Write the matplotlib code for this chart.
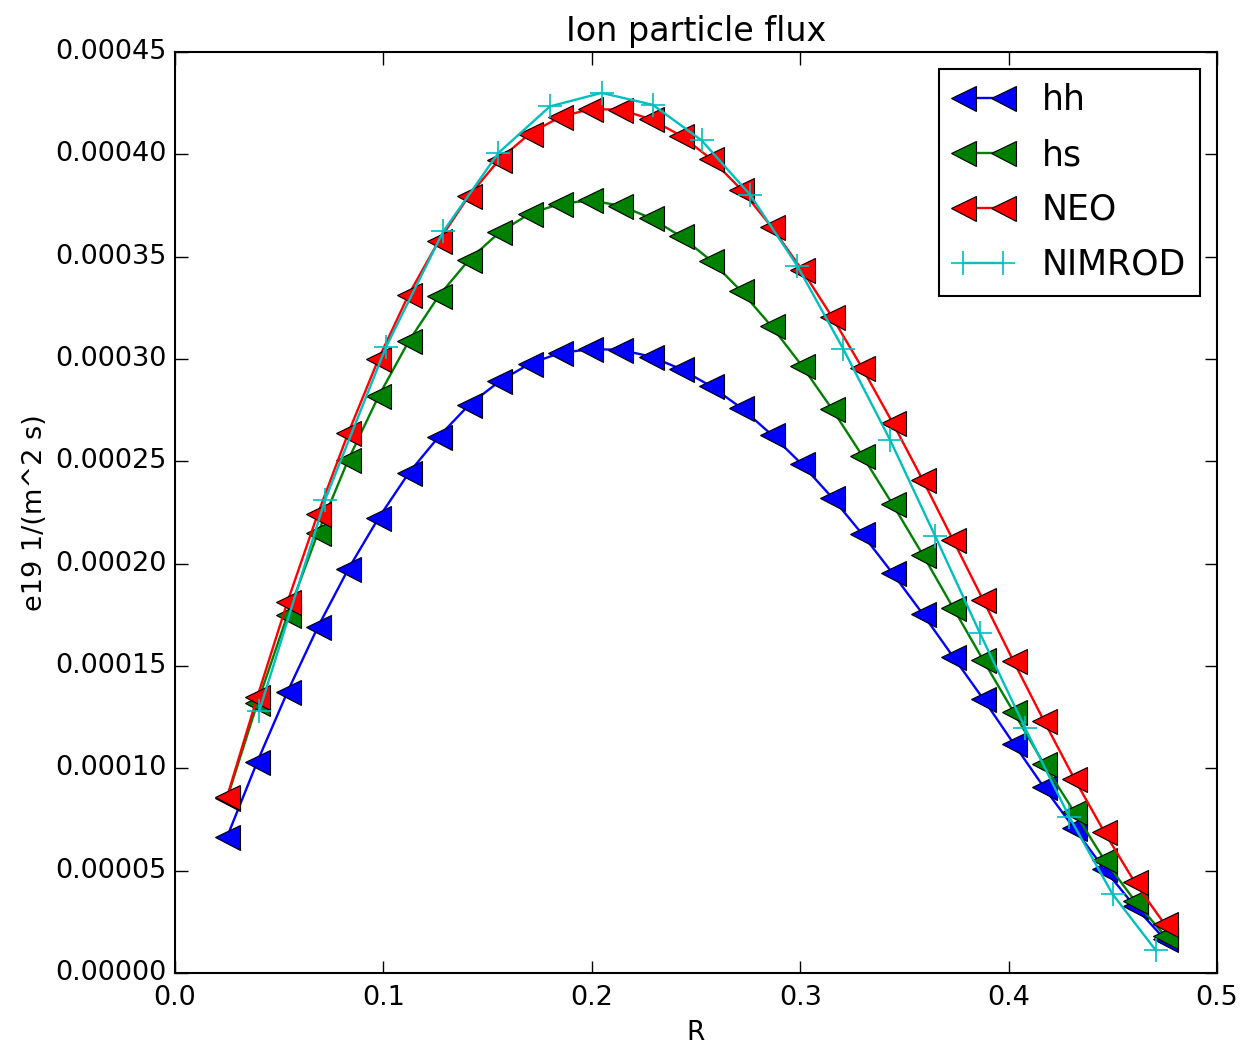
import matplotlib
matplotlib.use('Agg')
import matplotlib.pyplot as plt
import numpy as np
from matplotlib.ticker import FormatStrFormatter, MultipleLocator

# radial positions of the hh / hs / NEO points
r = [0.0250, 0.0395, 0.0540, 0.0685, 0.0831, 0.0976, 0.1121, 0.1266,
     0.1411, 0.1556, 0.1702, 0.1847, 0.1992, 0.2137, 0.2282, 0.2427,
     0.2573, 0.2718, 0.2863, 0.3008, 0.3153, 0.3298, 0.3444, 0.3589,
     0.3734, 0.3879, 0.4024, 0.4169, 0.4315, 0.4460, 0.4605, 0.4750]

# flux values in units of 1e-4
hh = [0.666, 1.033, 1.375, 1.690, 1.973, 2.222, 2.442, 2.621,
      2.776, 2.890, 2.977, 3.029, 3.048, 3.045, 3.012, 2.951,
      2.866, 2.760, 2.630, 2.486, 2.323, 2.144, 1.952, 1.753,
      1.545, 1.338, 1.121, 0.908, 0.706, 0.507, 0.326, 0.164]
hs = [0.854, 1.318, 1.750, 2.149, 2.507, 2.817, 3.086, 3.309,
      3.485, 3.618, 3.710, 3.758, 3.775, 3.749, 3.689, 3.599,
      3.480, 3.330, 3.159, 2.967, 2.755, 2.527, 2.289, 2.042,
      1.784, 1.527, 1.275, 1.022, 0.787, 0.552, 0.354, 0.182]
neo = [0.862, 1.350, 1.815, 2.243, 2.638, 2.999, 3.314, 3.578,
       3.798, 3.974, 4.101, 4.182, 4.221, 4.218, 4.172, 4.091,
       3.977, 3.827, 3.645, 3.436, 3.205, 2.955, 2.687, 2.407,
       2.114, 1.820, 1.522, 1.233, 0.950, 0.688, 0.444, 0.237]

r_nimrod = [0.0405, 0.0720, 0.1012, 0.1287, 0.1551, 0.1799, 0.2047,
            0.2292, 0.2527, 0.2759, 0.2986, 0.3207, 0.3431, 0.3647,
            0.3863, 0.4079, 0.4291, 0.4499, 0.4707]
nimrod = [1.282, 2.312, 3.058, 3.623, 4.006, 4.234, 4.300,
          4.242, 4.068, 3.803, 3.455, 3.048, 2.605, 2.136,
          1.659, 1.197, 0.763, 0.385, 0.110]

SCALE = 1e-4

plt.style.use('classic')
plt.rcParams['font.family'] = ['DejaVu Sans']

fig = plt.figure(figsize=(12.45, 10.52), dpi=100, facecolor='white')
ax = fig.add_axes([0.1406, 0.0751, 0.8369, 0.8755])
ax.set_facecolor('white')

tri = dict(marker='<', markersize=18, markeredgecolor='black',
           markeredgewidth=0.8, linewidth=1.7)
ax.plot(r, np.array(hh) * SCALE, color='b', label='hh', **tri)
ax.plot(r, np.array(hs) * SCALE, color='g', label='hs', **tri)
ax.plot(r, np.array(neo) * SCALE, color='r', label='NEO', **tri)
ax.plot(r_nimrod, np.array(nimrod) * SCALE, color='c', marker='+',
        markersize=17, markeredgewidth=1.2, linewidth=1.7, label='NIMROD')

ax.set_xlim(0, 0.5)
ax.set_ylim(0, 0.00045)
ax.xaxis.set_major_locator(MultipleLocator(0.1))
ax.yaxis.set_major_locator(MultipleLocator(0.00005))
ax.xaxis.set_major_formatter(FormatStrFormatter('%.1f'))
ax.yaxis.set_major_formatter(FormatStrFormatter('%.5f'))

ax.tick_params(axis='both', which='major', direction='in', length=9,
               width=1, labelsize=19.5, top=True, right=True)
ax.tick_params(axis='x', pad=9)
ax.tick_params(axis='y', pad=6)
ax.minorticks_off()
for sp in ax.spines.values():
    sp.set_linewidth(1.5)

ax.set_title('Ion particle flux', fontsize=24, pad=8)
ax.set_xlabel('R', fontsize=19, labelpad=6)
ax.set_ylabel('e19 1/(m^2 s)', fontsize=19.5)

leg = ax.legend(loc='upper right', numpoints=2, fontsize=25,
                fancybox=False, shadow=False, borderaxespad=0.5,
                handlelength=1.75, labelspacing=0.6)
leg.get_frame().set_linewidth(1.5)
leg.get_frame().set_edgecolor('black')

fig.savefig('out.png', dpi=100, facecolor='white')
